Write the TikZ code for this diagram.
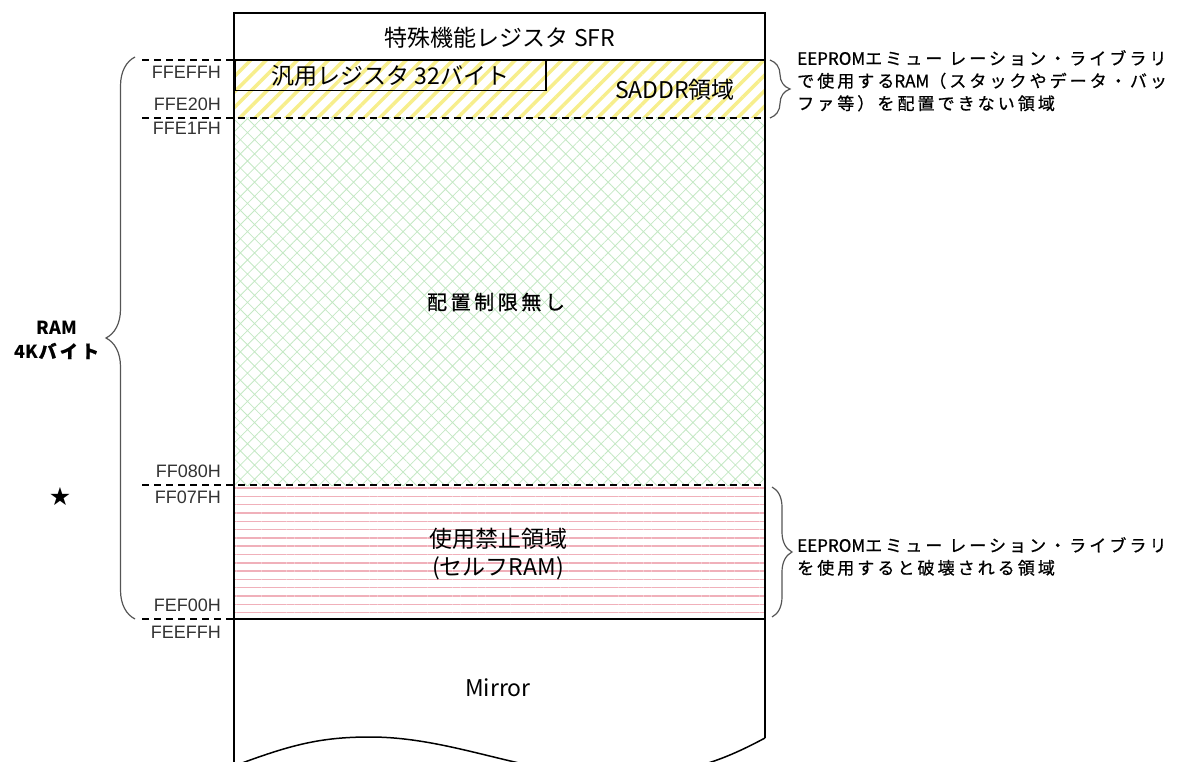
\documentclass[tikz,border=0pt]{standalone}
\usepackage{fontspec}
\setmainfont{Noto Sans CJK JP}
\newfontfamily\addrfont{Liberation Sans}
\newfontfamily\jpw[LetterSpace=18,FakeBold=0.8]{Noto Sans CJK JP}
\newfontfamily\jpn[FakeBold=0.8]{Noto Sans CJK JP}
\newfontfamily\symfont{DejaVu Sans}
\usetikzlibrary{patterns.meta,decorations.pathreplacing}

\definecolor{saddrcol}{RGB}{247,238,140}
\definecolor{freecol}{RGB}{196,232,196}
\definecolor{selfcol}{RGB}{240,176,186}
\definecolor{bracecol}{RGB}{85,85,85}

\tikzset{
  addr/.style={anchor=east, inner sep=0pt, text=black!80, font=\addrfont\fontsize{18}{20}\selectfont},
  lbl/.style={inner sep=0pt, font=\fontsize{23}{28}\selectfont},
  note/.style={anchor=north west, align=left, inner sep=0pt, font=\jpw\fontsize{17}{22.5}\selectfont},
  brc/.style={decorate, draw=bracecol, line width=1.2pt},
  sep/.style={dash pattern=on 7pt off 5pt, line width=1.5pt},
}

\begin{document}
\begin{tikzpicture}[x=1pt,y=-1pt]
    \useasboundingbox (0,0) rectangle (1203,762);
    \clip (0,0) rectangle (1203,762);

    % Areas
    \fill[pattern={Lines[angle=45,distance=11pt,line width=3.5pt]}, pattern color=saddrcol] (234,60) rectangle (765,118);
    \fill[pattern={Hatch[angle=45,distance=10pt,line width=0.8pt]}, pattern color=freecol] (234,118) rectangle (765,485);
    \fill[pattern={Lines[angle=0,distance=8.3pt,line width=1.5pt]}, pattern color=selfcol] (234,485) rectangle (765,619);

    % Outline
    \draw[line width=1.5pt] (234,762) -- (234,13) -- (765,13) -- (765,738);
    \draw[line width=1.5pt] (234,766) .. controls (290,745) and (320,737) .. (370,737)
        .. controls (450,737) and (520,772) .. (600,775)
        .. controls (680,778) and (720,762) .. (765,738);

    % Boundaries
    \draw[line width=1.5pt] (234,60) -- (765,60);
    \draw[line width=1.5pt] (234,619) -- (765,619);
    \draw[sep] (142,60) -- (234,60);
    \draw[sep] (142,118) -- (765,118);
    \draw[sep] (142,485) -- (765,485);
    \draw[sep] (142,619) -- (234,619);

    % Areas text
    \node[lbl] (sfr) at (500,38) {特殊機能レジスタ SFR};
    \node[lbl, draw, line width=1.5pt, anchor=north west, minimum width=311pt, minimum height=30pt] (greg) at (234,60) {汎用レジスタ 32バイト};
    \node[lbl] (saddr) at (675,90) {SADDR領域};
    \node[inner sep=0pt, font=\jpw\fontsize{20}{22}\selectfont] (free) at (496,302) {配置制限無し};
    \node[lbl, align=center] (self) at (498,554) {使用禁止領域\\(セルフRAM)};
    \node[lbl] (mirror) at (498,688) {Mirror};

    % Addresses
    \node[addr] (aFFEFF) at (221,72) {FFEFFH};
    \node[addr] (aFFE20) at (221,104) {FFE20H};
    \node[addr] (aFFE1F) at (221,128) {FFE1FH};
    \node[addr] (aFF080) at (221,471) {FF080H};
    \node[addr] (aFF07F) at (221,497) {FF07FH};
    \node[addr] (aFEF00) at (221,605) {FEF00H};
    \node[addr] (aFEEFF) at (221,632) {FEEFFH};

    % Braces
    \coordinate (lbtop) at (135,57);
    \coordinate (lbbot) at (135,619);
    \coordinate (rbtop) at (770,60);
    \coordinate (rbbot) at (770,118);
    \coordinate (sbtop) at (772,487);
    \coordinate (sbbot) at (772,617);
    \draw[brc, decoration={brace,amplitude=29pt}] (lbbot) -- (lbtop);
    \draw[brc, decoration={brace,amplitude=20pt}] (rbtop) -- (rbbot);
    \draw[brc, decoration={brace,amplitude=20pt}] (sbtop) -- (sbbot);

    % Labels
    \node[align=center, inner sep=0pt, font=\fontsize{18}{24}\selectfont\bfseries] (ram) at (57,340) {RAM\\4K{\jpw\bfseries バイト}};
    \node[inner sep=0pt, font=\symfont\fontsize{25}{27}\selectfont] (star) at (60,497) {★};
    \node[note] (note1) at (797,50) {{\jpn EEPROM}エミュー レーション・ライブラリ\\で使用する{\jpn RAM}（スタックやデータ・バッ\\ファ等）を配置できない領域};
    \node[note] (note2) at (797,537) {{\jpn EEPROM}エミュー レーション・ライブラリ\\を使用すると破壊される領域};
\end{tikzpicture}
\end{document}
